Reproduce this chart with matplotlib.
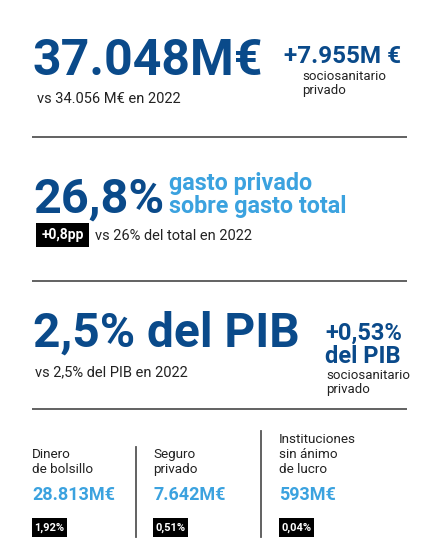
import matplotlib
matplotlib.use("Agg")
import matplotlib.pyplot as plt
from matplotlib.patches import Rectangle

# ---- data ----
total_value = "37.048M€"
total_prev = "vs 34.056 M€ en 2022"
socio_value = "+7.955M €"
socio_label = ["sociosanitario", "privado"]

share_value = "26,8%"
share_label = ["gasto privado", "sobre gasto total"]
share_delta = "+0,8pp"
share_prev = "vs 26% del total en 2022"

pib_value = "2,5% del PIB"
pib_prev = "vs 2,5% del PIB en 2022"
pib_socio = ["+0,53%", "del PIB"]
pib_socio_label = ["sociosanitario", "privado"]

categories = [["Dinero", "de bolsillo"], ["Seguro", "privado"],
              ["Instituciones", "sin ánimo", "de lucro"]]
amounts = ["28.813M€", "7.642M€", "593M€"]
pib_shares = ["1,92%", "0,51%", "0,04%"]

DARK = "#0a4a8a"
LIGHT = "#3ba2df"
TEXT = "#222222"
LINE = "#555555"
FONT = ["Roboto", "DejaVu Sans"]

W, H = 432, 547
fig = plt.figure(figsize=(W / 100, H / 100), dpi=100)
ax = fig.add_axes([0, 0, 1, 1])
ax.set_xlim(0, W)
ax.set_ylim(H, 0)
ax.axis("off")

def t(x, y, s, size, color=TEXT, weight="normal", va="baseline", **kw):
    ax.text(x, y, s, fontsize=size, color=color, fontweight=weight,
            family=FONT, va=va, ha="left", **kw)

def hline(y):
    ax.plot([32, 407], [y, y], color=LINE, lw=1.3, solid_capstyle="butt")

def box(x, y, w, h, s, size):
    ax.add_patch(Rectangle((x, y), w, h, color="black", lw=0))
    ax.text(x + w / 2, y + h / 2 + 0.5, s, fontsize=size, color="white",
            fontweight="bold", family=FONT, ha="center", va="center")

# section 1
t(32, 75, total_value, 36, DARK, "bold")
t(284, 63, socio_value, 17.5, DARK, "bold")
t(302, 80, socio_label[0], 9.5)
t(302, 94, socio_label[1], 9.5)
t(37, 103, total_prev, 10.5)
hline(137)

# section 2
t(33, 213, share_value, 35, DARK, "bold")
t(169, 190, share_label[0], 16.8, LIGHT, "bold")
t(169, 213, share_label[1], 16.8, LIGHT, "bold")
box(36, 223, 53, 24, share_delta, 10)
t(95, 240, share_prev, 10.5)
hline(281)

# section 3
t(33, 347, pib_value, 34.5, DARK, "bold")
t(325, 340, pib_socio[0], 17, DARK, "bold")
t(325, 363, pib_socio[1], 17, DARK, "bold")
t(326, 379, pib_socio_label[0], 9.5)
t(326, 393, pib_socio_label[1], 9.5)
t(35, 376, pib_prev, 10.5)
hline(409)

# bottom section
xs = [32, 153, 279]
label_base = 473
for i, (cat, amt, pct) in enumerate(zip(categories, amounts, pib_shares)):
    n = len(cat)
    for j, line in enumerate(cat):
        t(xs[i], label_base - (n - 1 - j) * 15, line, 9.7)
    t(xs[i], 500, amt, 13, LIGHT, "bold")
    box(xs[i], 518, 35, 19, pct, 8)

ax.plot([136, 136], [447, 537], color=LINE, lw=1.3)
ax.plot([261, 261], [431, 537], color=LINE, lw=1.3)

fig.savefig("out.png", dpi=100)
